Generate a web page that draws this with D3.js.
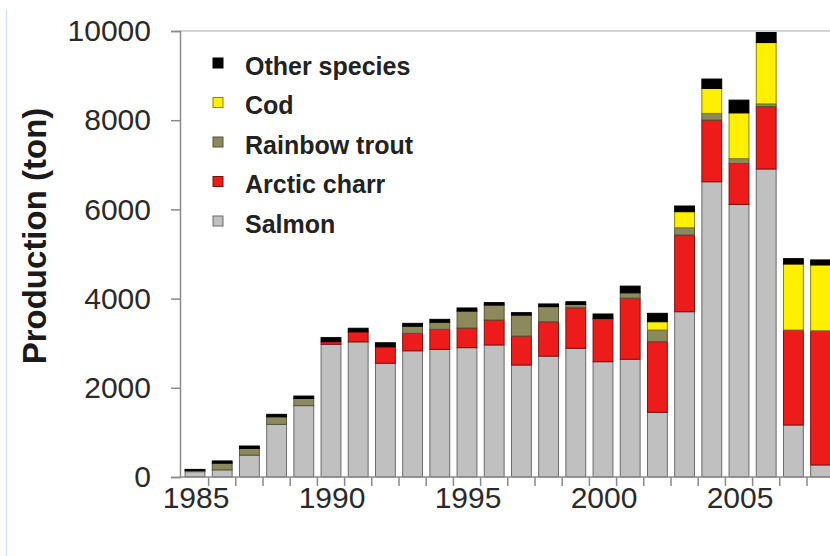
<!DOCTYPE html>
<html>
<head>
<meta charset="utf-8">
<script src="https://cdn.jsdelivr.net/npm/d3@7"></script>
<style>
  html, body { margin: 0; padding: 0; background: #fff; }
  svg { display: block; font-family: "Liberation Sans", Arial, sans-serif; }
</style>
</head>
<body>
<div id="chart"></div>
<script>
const years = d3.range(1985, 2009);
const salmon = [120, 160, 490, 1180, 1600, 2975, 3030, 2550, 2830, 2860, 2900, 2960, 2510, 2710, 2885, 2585, 2640, 1450, 3706, 6620, 6110, 6906, 1166, 270];
const charr  = [0, 0, 0, 0, 0, 60, 225, 370, 390, 450, 440, 560, 650, 770, 910, 950, 1370, 1584, 1720, 1383, 920, 1400, 2130, 3010];
const trout  = [30, 150, 150, 170, 160, 0, 0, 0, 160, 160, 380, 335, 470, 340, 75, 20, 120, 262, 164, 150, 110, 60, 0, 0];
const cod    = [0, 0, 0, 0, 0, 0, 0, 0, 0, 0, 0, 0, 0, 0, 0, 0, 0, 186, 359, 560, 1025, 1375, 1480, 1475];
const other  = [20, 50, 55, 55, 55, 90, 80, 90, 65, 65, 70, 55, 55, 60, 60, 100, 150, 188, 127, 210, 285, 225, 120, 112];

const yTicks = [0, 2000, 4000, 6000, 8000, 10000];
const xLabels = [1985, 1990, 1995, 2000, 2005];

// bottom to top stacking order
const seriesKeys = ["Salmon", "Arctic charr", "Rainbow trout", "Cod", "Other species"];
const seriesValues = [salmon, charr, trout, cod, other];
const colors = ["#c0c0c0", "#ee1b1b", "#8c8a5c", "#fff000", "#000000"];
const strokes = ["#6a6a6a", "#7a1010", "#55543a", "#8a8200", "#000000"];

const width = 830;
const height = 556;

const svg = d3.select("#chart")
    .append("svg")
    .attr("width", width)
    .attr("height", height);

// faint left border of the original picture
svg.append("line")
    .attr("x1", 6.5).attr("x2", 6.5)
    .attr("y1", 10).attr("y2", 556)
    .attr("stroke", "#cfe3f2")
    .attr("stroke-width", 1.5);

const table = years.map((yr, i) => {
    const row = { year: yr };
    seriesKeys.forEach((k, j) => { row[k] = seriesValues[j][i]; });
    return row;
});

const stacked = d3.stack().keys(seriesKeys)(table);

const xScale = d3.scaleBand()
    .domain(years)
    .range([181.4, 181.4 + 24 * 27.2])
    .paddingInner(0.27)
    .paddingOuter(0.135);

const yScale = d3.scaleLinear()
    .domain([0, 10000])
    .range([477, 31]);

const axisColor = "#8a8a8a";

// top gridline
svg.append("line")
    .attr("x1", 180).attr("x2", width)
    .attr("y1", yScale(10000)).attr("y2", yScale(10000))
    .attr("stroke", "#c8c8c8")
    .attr("stroke-width", 1.5);

// bars
svg.append("g")
    .selectAll("g")
    .data(stacked)
    .join("g")
    .attr("fill", (d, i) => colors[i])
    .attr("stroke", (d, i) => strokes[i])
    .selectAll("rect")
    .data(d => d.filter(s => s[1] - s[0] > 0))
    .join("rect")
    .attr("x", d => xScale(d.data.year))
    .attr("y", d => yScale(d[1]))
    .attr("width", xScale.bandwidth())
    .attr("height", d => yScale(d[0]) - yScale(d[1]))
    .attr("stroke-width", 1);

// y axis
const yAxis = svg.append("g")
    .attr("transform", "translate(180,0)")
    .call(d3.axisLeft(yScale).tickValues(yTicks).tickSize(9).tickPadding(20).tickFormat(d3.format("d")));
yAxis.select(".domain").attr("stroke", axisColor).attr("stroke-width", 1.5);
yAxis.selectAll(".tick line").attr("stroke", axisColor).attr("stroke-width", 1.5);
yAxis.selectAll(".tick text")
    .attr("font-size", 30)
    .attr("font-family", "Liberation Sans, Arial, sans-serif")
    .attr("fill", "#2a2a2a");

// x axis (ticks sit between the bars)
const boundaries = years.map(y => xScale(y) - (xScale.step() - xScale.bandwidth()) / 2);
const xAxisG = svg.append("g");
xAxisG.append("line")
    .attr("x1", 180).attr("x2", width)
    .attr("y1", 477).attr("y2", 477)
    .attr("stroke", axisColor)
    .attr("stroke-width", 1.5);
xAxisG.selectAll(".xt")
    .data(boundaries.slice(1))
    .join("line")
    .attr("class", "xt")
    .attr("x1", d => d).attr("x2", d => d)
    .attr("y1", 477).attr("y2", 486)
    .attr("stroke", axisColor)
    .attr("stroke-width", 1.5);
xAxisG.selectAll(".xl")
    .data(xLabels)
    .join("text")
    .attr("class", "xl")
    .attr("x", d => xScale(d) + xScale.bandwidth() / 2 + 1)
    .attr("y", 508)
    .attr("text-anchor", "middle")
    .attr("font-size", 30)
    .attr("fill", "#2a2a2a")
    .text(d => d);

// y axis title
svg.append("text")
    .attr("transform", "translate(46,236) rotate(-90)")
    .attr("text-anchor", "middle")
    .attr("font-size", 33)
    .attr("font-weight", "bold")
    .attr("fill", "#1a1a1a")
    .text("Production (ton)");

// legend, top entry = last stacked series
const legendOrder = seriesKeys.map((k, i) => i).reverse();
const legend = svg.append("g")
    .selectAll("g")
    .data(legendOrder)
    .join("g")
    .attr("transform", (d, i) => `translate(213, ${66 + i * 39.5})`);
legend.append("rect")
    .attr("x", 0)
    .attr("y", -8)
    .attr("width", 10)
    .attr("height", 10)
    .attr("fill", d => colors[d])
    .attr("stroke", d => strokes[d])
    .attr("stroke-width", 1);
legend.append("text")
    .attr("x", 32)
    .attr("y", 0)
    .attr("dy", "0.35em")
    .attr("font-size", 25)
    .attr("font-weight", "bold")
    .attr("fill", "#222")
    .text(d => seriesKeys[d]);
</script>
</body>
</html>
